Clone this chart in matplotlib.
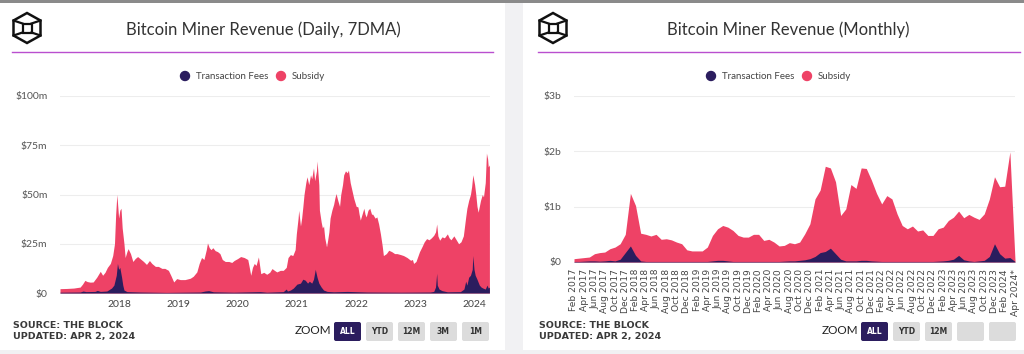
import matplotlib.pyplot as plt
from matplotlib.patches import Polygon, Rectangle, Circle, FancyBboxPatch

W, H = 1024, 354

FEE_COLOR = '#2b1d5e'
SUB_COLOR = '#ee4266'
TEXT_DARK = '#333333'
TICK_COLOR = '#555555'

# Daily chart (7DMA), $m; x in decimal years
daily_x = [2017.00, 2017.11, 2017.23, 2017.34, 2017.38, 2017.42, 2017.46, 2017.51, 2017.56, 2017.62,
           2017.68, 2017.72, 2017.76, 2017.80, 2017.85, 2017.89, 2017.92, 2017.94, 2017.96, 2017.97,
           2017.99, 2018.01, 2018.03, 2018.05, 2018.08, 2018.10, 2018.13, 2018.15, 2018.19, 2018.23,
           2018.27, 2018.31, 2018.35, 2018.41, 2018.46, 2018.51, 2018.55, 2018.61, 2018.66, 2018.72,
           2018.77, 2018.83, 2018.87, 2018.92, 2018.97, 2019.03, 2019.11, 2019.20, 2019.25, 2019.31,
           2019.35, 2019.39, 2019.43, 2019.47, 2019.49, 2019.52, 2019.55, 2019.58, 2019.62, 2019.66,
           2019.70, 2019.74, 2019.79, 2019.85, 2019.90, 2019.94, 2020.00, 2020.05, 2020.11, 2020.17,
           2020.19, 2020.22, 2020.25, 2020.28, 2020.31, 2020.35, 2020.37, 2020.39, 2020.44, 2020.49,
           2020.54, 2020.58, 2020.62, 2020.66, 2020.72, 2020.77, 2020.82, 2020.85, 2020.89, 2020.93,
           2020.97, 2020.99, 2021.02, 2021.03, 2021.06, 2021.08, 2021.10, 2021.12, 2021.15, 2021.17,
           2021.20, 2021.23, 2021.25, 2021.28, 2021.30, 2021.33, 2021.34, 2021.37, 2021.38, 2021.41,
           2021.43, 2021.45, 2021.47, 2021.50, 2021.52, 2021.54, 2021.56, 2021.59, 2021.62, 2021.64,
           2021.66, 2021.69, 2021.72, 2021.74, 2021.77, 2021.79, 2021.82, 2021.85, 2021.87, 2021.90,
           2021.93, 2021.96, 2021.98, 2022.00, 2022.03, 2022.05, 2022.07, 2022.10, 2022.13, 2022.15,
           2022.17, 2022.20, 2022.23, 2022.26, 2022.28, 2022.32, 2022.35, 2022.38, 2022.41, 2022.44,
           2022.46, 2022.51, 2022.55, 2022.60, 2022.65, 2022.69, 2022.75, 2022.80, 2022.86, 2022.92,
           2022.95, 2022.97, 2023.01, 2023.04, 2023.07, 2023.11, 2023.15, 2023.19, 2023.23, 2023.27,
           2023.31, 2023.34, 2023.36, 2023.38, 2023.41, 2023.45, 2023.49, 2023.54, 2023.57, 2023.60,
           2023.65, 2023.69, 2023.73, 2023.77, 2023.81, 2023.85, 2023.87, 2023.90, 2023.93, 2023.95,
           2023.97, 2024.00, 2024.02, 2024.04, 2024.06, 2024.10, 2024.13, 2024.15, 2024.18, 2024.20,
           2024.22, 2024.23, 2024.25]
daily_total = [2.2, 2.3, 2.5, 3.0, 4.5, 6.4, 5.8, 5.5, 5.6, 8.0,
               11.0, 9.0, 10.5, 13.0, 15.0, 19.0, 25, 40, 50, 46,
               38, 42, 43, 33, 25, 18, 21, 22.5, 20, 16,
               17.5, 18.5, 17.5, 16, 14.5, 16.5, 15, 13.5, 13.5, 12.5,
               12.5, 11.5, 9, 5.6, 7.3, 6.8, 6.8, 7.5, 8.5, 10.7,
               15, 18, 17, 22, 25.4, 23, 22, 23, 21.5, 21,
               20, 17, 16, 16, 15.5, 16.5, 17.5, 18.5, 18, 17,
               14, 9, 13, 15, 14, 18.3, 14, 9.8, 10.5, 9.5,
               10.5, 12.4, 11.5, 10.7, 11.5, 11.5, 13, 18, 19.5, 19,
               22, 30, 38, 42, 34, 38, 43.7, 50, 56, 59,
               55, 60, 58, 63.5, 57, 62, 67, 55, 42, 36,
               33, 34, 28, 23.4, 27, 31, 38, 42, 45, 48,
               50.5, 47, 44, 50, 55, 60, 62, 61, 62.4, 56,
               52, 48, 46, 44, 43.7, 40, 37, 40, 43, 40,
               38.6, 42, 43, 40, 40, 38, 38.6, 35, 30, 24,
               19, 20, 21.7, 21, 20, 20, 19.5, 19, 18, 16.6,
               17, 15, 16, 18.5, 21, 23.4, 26, 27.6, 27, 28,
               29.3, 31, 35, 29, 26.8, 28.5, 28, 30, 28, 27,
               29, 27, 25, 26, 29, 38.6, 43, 47, 50, 54,
               60, 55, 50, 44, 41, 47, 50, 48.8, 56, 71,
               68, 64, 65]

fee_x = [2017.00, 2017.34, 2017.39, 2017.44, 2017.59, 2017.63, 2017.68, 2017.79, 2017.87, 2017.91,
         2017.95, 2017.97, 2017.99, 2018.01, 2018.04, 2018.06, 2018.08, 2018.13, 2018.35, 2018.80,
         2019.37, 2019.45, 2019.51, 2019.59, 2019.93, 2020.38, 2020.49, 2020.77, 2020.82, 2020.84,
         2020.89, 2020.94, 2021.00, 2021.06, 2021.10, 2021.14, 2021.18, 2021.21, 2021.25, 2021.28,
         2021.31, 2021.34, 2021.37, 2021.41, 2021.45, 2021.51, 2021.62, 2021.85, 2022.18, 2022.75,
         2023.25, 2023.31, 2023.34, 2023.36, 2023.37, 2023.40, 2023.45, 2023.54, 2023.76, 2023.82,
         2023.85, 2023.87, 2023.90, 2023.93, 2023.96, 2023.97, 2023.99, 2024.01, 2024.04, 2024.08,
         2024.11, 2024.14, 2024.18, 2024.21, 2024.23, 2024.25]
fee_y = [0.4, 0.5, 1.0, 0.7, 0.8, 1.3, 0.8, 1.0, 2.5, 4,
         9, 15, 12, 13, 8, 4, 1.5, 0.7, 0.5, 0.3,
         0.5, 1.0, 1.2, 0.6, 0.4, 0.7, 0.4, 0.7, 2.0, 1.0,
         1.5, 2.5, 4.5, 5, 7, 6.5, 5, 6, 5, 7,
         12, 8, 5, 3, 1.5, 0.8, 0.6, 0.8, 0.5, 0.4,
         0.5, 0.8, 3, 10, 4, 2, 1.2, 0.6, 0.7, 2,
         6, 4, 8, 9, 12, 19, 12, 9, 7, 4,
         3, 2.5, 2, 4, 2.5, 3]

daily_years = [2018, 2019, 2020, 2021, 2022, 2023, 2024]
daily_yticks = [0, 25, 50, 75, 100]
daily_ylabels = ['$0', '$25m', '$50m', '$75m', '$100m']

# Monthly chart, $b, Feb 2017 .. Apr 2024
month_abbr = ['Jan', 'Feb', 'Mar', 'Apr', 'May', 'Jun', 'Jul', 'Aug', 'Sep', 'Oct', 'Nov', 'Dec']
month_labels = []
for yr in range(2017, 2025):
    for m in range(12):
        if (yr == 2017 and m < 1) or (yr == 2024 and m > 3):
            continue
        month_labels.append(f'{month_abbr[m]} {yr}')
month_labels[-1] += '*'

monthly_total = [0.06, 0.07, 0.08, 0.09, 0.15, 0.17, 0.18, 0.24, 0.27, 0.33,
                 0.50, 1.24, 1.02, 0.52, 0.50, 0.47, 0.50, 0.41, 0.42, 0.40,
                 0.36, 0.33, 0.22, 0.20, 0.20, 0.20, 0.27, 0.48, 0.60, 0.66,
                 0.63, 0.57, 0.48, 0.45, 0.45, 0.50, 0.50, 0.39, 0.41, 0.36,
                 0.29, 0.30, 0.35, 0.33, 0.36, 0.51, 0.69, 1.14, 1.30, 1.73,
                 1.70, 1.45, 0.84, 0.96, 1.40, 1.33, 1.70, 1.69, 1.48, 1.24,
                 1.05, 1.20, 1.14, 0.87, 0.66, 0.60, 0.65, 0.56, 0.58, 0.48,
                 0.48, 0.60, 0.63, 0.75, 0.81, 0.92, 0.80, 0.86, 0.81, 0.77,
                 0.87, 1.14, 1.54, 1.36, 1.37, 1.99, 0.03]
monthly_fees = [0.01, 0.01, 0.015, 0.02, 0.02, 0.015, 0.02, 0.03, 0.02, 0.05,
                0.17, 0.29, 0.12, 0.02, 0.01, 0.01, 0.01, 0.01, 0.01, 0.01,
                0.01, 0.01, 0.01, 0.01, 0.01, 0.01, 0.01, 0.02, 0.03, 0.03,
                0.02, 0.01, 0.01, 0.01, 0.01, 0.01, 0.01, 0.01, 0.01, 0.01,
                0.01, 0.015, 0.02, 0.02, 0.03, 0.04, 0.06, 0.10, 0.17, 0.19,
                0.25, 0.15, 0.05, 0.02, 0.02, 0.02, 0.03, 0.03, 0.02, 0.015,
                0.01, 0.01, 0.01, 0.01, 0.01, 0.01, 0.01, 0.01, 0.01, 0.01,
                0.01, 0.015, 0.02, 0.03, 0.05, 0.12, 0.04, 0.02, 0.01, 0.02,
                0.03, 0.10, 0.33, 0.15, 0.07, 0.08, 0.01]
monthly_yticks = [0, 1, 2, 3]
monthly_ylabels = ['$0', '$1b', '$2b', '$3b']

plt.rcParams['font.family'] = ['Lato', 'DejaVu Sans']

fig = plt.figure(figsize=(W / 100, H / 100), dpi=100)
fig.patch.set_facecolor('white')

# background layer in pixel coordinates
bg = fig.add_axes([0, 0, 1, 1])
bg.set_xlim(0, W)
bg.set_ylim(H, 0)
bg.axis('off')


def px_axes(x0, y0, x1, y1):
    return fig.add_axes([x0 / W, 1 - y1 / H, (x1 - x0) / W, (y1 - y0) / H])


def draw_logo(cx, cy, r):
    w = r * 0.9
    hexa = [(cx, cy - r), (cx + w, cy - r / 2), (cx + w, cy + r / 2),
            (cx, cy + r), (cx - w, cy + r / 2), (cx - w, cy - r / 2)]
    bg.add_patch(Polygon(hexa, closed=True, fill=False, ec='#111111', lw=1.8, joinstyle='miter'))
    s = r * 0.3
    inner = [(cx - s, cy - s), (cx + s, cy - s), (cx + s, cy + s), (cx - s, cy + s)]
    bg.add_patch(Polygon(inner, closed=True, fill=False, ec='#111111', lw=1.6))
    for (hx, hy), (ix, iy) in zip([hexa[5], hexa[1], hexa[2], hexa[4]], inner):
        bg.plot([hx, ix], [hy, iy], color='#111111', lw=1.6)


def draw_panel(x0, x1, title, cx_title, legend_x, zoom_x, buttons):
    draw_logo(x0 + 15, 28, 15)
    bg.text(cx_title, 30, title, ha='center', va='center', fontsize=12, color=TEXT_DARK)
    bg.plot([x0, x1], [52, 52], color='#b94fcf', lw=1)
    # legend
    bg.add_patch(Circle((legend_x, 76), 4.5, color=FEE_COLOR))
    bg.text(legend_x + 11, 76.5, 'Transaction Fees', ha='left', va='center', fontsize=7, color='#444')
    bg.add_patch(Circle((legend_x + 96, 76), 4.5, color=SUB_COLOR))
    bg.text(legend_x + 107, 76.5, 'Subsidy', ha='left', va='center', fontsize=7, color='#444')
    # footer
    bg.text(x0 + 1, 326, 'SOURCE: THE BLOCK', ha='left', va='center', fontsize=6.8,
            color='#3a3a3a', fontweight='bold', family='DejaVu Sans')
    bg.text(x0 + 1, 337, 'UPDATED: APR 2, 2024', ha='left', va='center', fontsize=6.8,
            color='#3a3a3a', fontweight='bold', family='DejaVu Sans')
    bg.text(zoom_x, 331, 'ZOOM', ha='center', va='center', fontsize=8.5, color='#222')
    for i, lab in enumerate(buttons):
        bx = zoom_x + 21 + 32 * i
        face = '#2b1d5e' if i == 0 else '#dcdcdc'
        bg.add_patch(FancyBboxPatch((bx, 322), 27, 19, boxstyle='round,pad=0,rounding_size=2',
                                    fc=face, ec='none'))
        bg.text(bx + 13.5, 331.5, lab, ha='center', va='center', fontsize=5.5, fontweight='bold',
                color='white' if i == 0 else '#333', family='DejaVu Sans')


# page frame
bg.add_patch(Rectangle((0, 0), W, 3, color='#8a8a8a', lw=0))
bg.add_patch(Rectangle((505, 3), 18, H, color='#f1f1f3', lw=0))
bg.add_patch(Rectangle((0, 350), W, 4, color='#f1f1f3', lw=0))

draw_panel(12, 493, 'Bitcoin Miner Revenue (Daily, 7DMA)', 263, 185, 313,
           ['ALL', 'YTD', '12M', '3M', '1M'])
draw_panel(538, 1020, 'Bitcoin Miner Revenue (Monthly)', 788, 711, 840,
           ['ALL', 'YTD', '12M', '', ''])

# left chart: daily
ax1 = px_axes(60, 96, 490, 293)
ax1.set_facecolor('none')
ax1.fill_between(daily_x, daily_total, color=SUB_COLOR, lw=0)
ax1.fill_between(fee_x, fee_y, color=FEE_COLOR, lw=0)
ax1.set_xlim(2017.0, 2024.26)
ax1.set_ylim(0, 100)
ax1.set_xticks(daily_years)
ax1.set_xticklabels([str(y) for y in daily_years])
ax1.set_yticks(daily_yticks)
ax1.set_yticklabels(daily_ylabels)

# right chart: monthly
ax2 = px_axes(574, 96, 1015, 262)
ax2.set_facecolor('none')
mx = list(range(len(monthly_total)))
ax2.fill_between(mx, monthly_total, color=SUB_COLOR, lw=0)
ax2.fill_between(mx, monthly_fees, color=FEE_COLOR, lw=0)
ax2.set_xlim(0, len(monthly_total) - 1)
ax2.set_ylim(0, 3)
ax2.set_xticks(mx[::2])
ax2.set_xticklabels(month_labels[::2], rotation=90, fontsize=6.6, color='#444',
                    family='DejaVu Sans')
ax2.set_yticks(monthly_yticks)
ax2.set_yticklabels(monthly_ylabels)

for ax in (ax1, ax2):
    for s in ax.spines.values():
        s.set_visible(False)
    ax.yaxis.grid(True, color='#ededed', lw=0.8)
    ax.set_axisbelow(True)
    ax.tick_params(axis='y', length=0, pad=9, labelsize=7.5, labelcolor=TICK_COLOR)
    ax.tick_params(axis='x', length=0, labelcolor='#444')
ax1.tick_params(axis='x', pad=5, labelsize=7.5)
ax2.tick_params(axis='x', pad=5)

fig.savefig('out.png', dpi=100, facecolor='white')
